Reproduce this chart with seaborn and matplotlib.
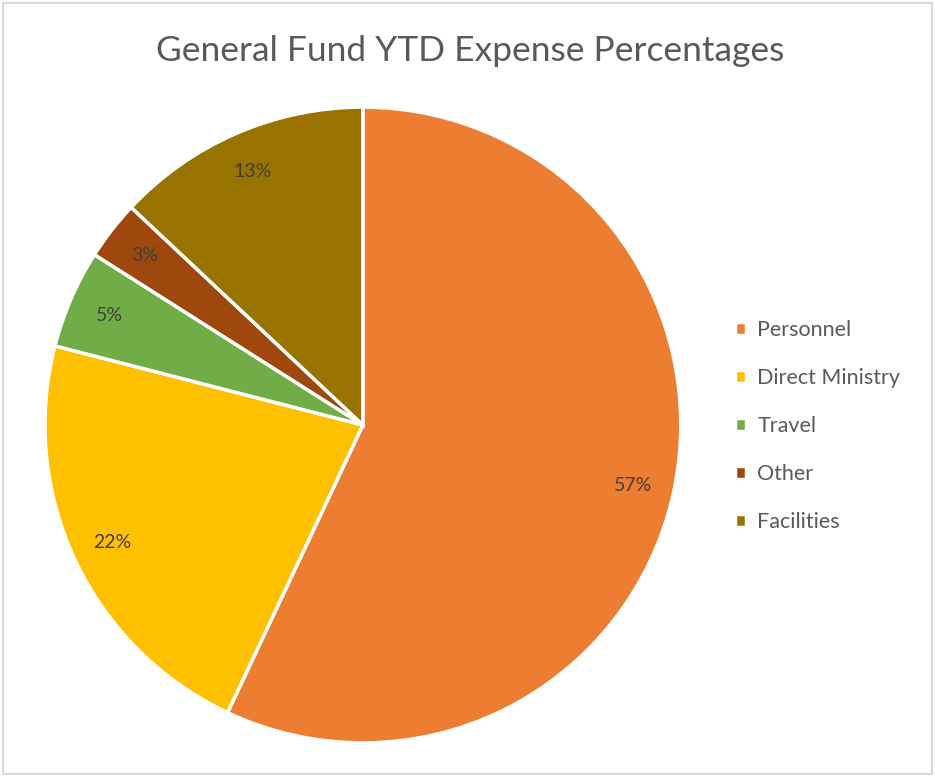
import numpy as np
import seaborn as sns
import matplotlib.pyplot as plt
from matplotlib.patches import Rectangle

# ── Data ──────────────────────────────────────────────────────────────────────
categories = ["Personnel", "Direct Ministry", "Travel", "Other", "Facilities"]
shares     = [57, 22, 5, 3, 13]
colors     = ["#ED7D31", "#FFC000", "#70AD47", "#9E480E", "#997300"]

sns.set_theme(style="white")
plt.rcParams["font.family"] = ["Lato", "DejaVu Sans"]

fig = plt.figure(figsize=(9.35, 7.77), dpi=100)
ax = fig.add_axes([0.0481, 0.0438, 0.680, 0.8185])

wedges, texts, autotexts = ax.pie(
    shares, colors=colors, startangle=90, counterclock=False,
    autopct="%1.0f%%", pctdistance=0.87, radius=1,
    wedgeprops=dict(edgecolor="white", linewidth=2.5),
    textprops=dict(color="#404040", fontsize=14),
)
ax.set_xlim(-1, 1)
ax.set_ylim(-1, 1)
ax.set_aspect("equal")
ax.axis("off")

fig.text(0.503, 0.935, "General Fund YTD Expense Percentages",
         ha="center", va="center", fontsize=25.5, color="#595959")

leg = fig.legend(
    wedges, categories, loc="center left", bbox_to_anchor=(0.765, 0.452),
    frameon=False, fontsize=15.5, labelcolor="#595959",
    handlelength=0.55, handleheight=0.55, handletextpad=0.5, labelspacing=1.3,
)

fig.patches.append(Rectangle((0.003, 0.004), 0.994, 0.992, transform=fig.transFigure,
                             fill=False, edgecolor="#D9D9D9", linewidth=1.5))

fig.savefig("out.png", dpi=100)
